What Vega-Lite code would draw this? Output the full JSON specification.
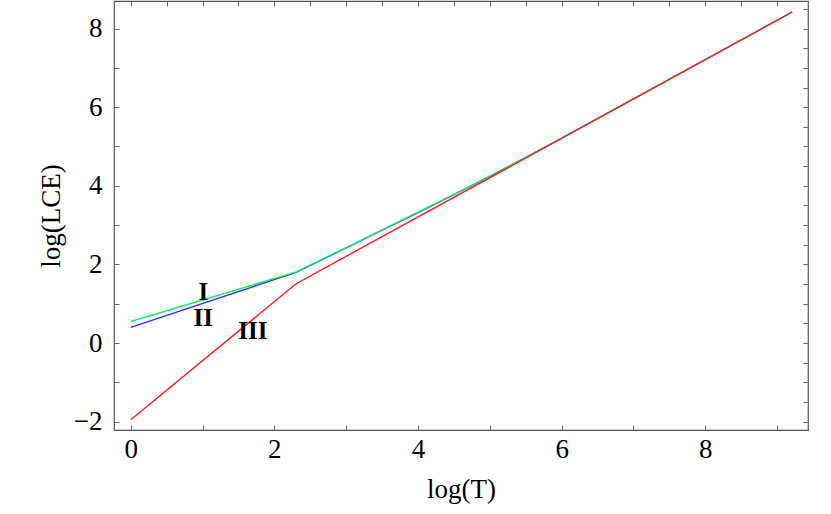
{
  "$schema": "https://vega.github.io/schema/vega-lite/v6.json",
  "width": 694,
  "height": 429,
  "autosize": {"type": "none"},
  "padding": {"left": 114, "top": 1, "right": 23, "bottom": 84},
  "background": "white",
  "config": {
    "view": {"stroke": "#555555", "strokeWidth": 1.2},
    "font": "Liberation Serif",
    "axis": {
      "labelFont": "Liberation Serif",
      "titleFont": "Liberation Serif",
      "labelFontSize": 27,
      "titleFontSize": 27,
      "labelColor": "black",
      "titleColor": "black",
      "titleFontWeight": "normal",
      "domain": false,
      "grid": false,
      "tickColor": "#666666",
      "tickSize": -5,
      "tickWidth": 1
    }
  },
  "datasets": {
    "curves": [
      {"s": "I", "x": 0, "y": 0.55},
      {"s": "I", "x": 2.303, "y": 1.81},
      {"s": "I", "x": 3.0, "y": 2.43},
      {"s": "I", "x": 3.5, "y": 2.88},
      {"s": "I", "x": 4.0, "y": 3.33},
      {"s": "I", "x": 4.5, "y": 3.78},
      {"s": "I", "x": 5.0, "y": 4.245},
      {"s": "I", "x": 5.5, "y": 4.725},
      {"s": "I", "x": 6.0, "y": 5.215},
      {"s": "I", "x": 9.21, "y": 8.42},
      {"s": "II", "x": 0, "y": 0.40},
      {"s": "II", "x": 2.303, "y": 1.80},
      {"s": "II", "x": 3.0, "y": 2.42},
      {"s": "II", "x": 3.5, "y": 2.87},
      {"s": "II", "x": 4.0, "y": 3.32},
      {"s": "II", "x": 4.5, "y": 3.775},
      {"s": "II", "x": 5.0, "y": 4.24},
      {"s": "II", "x": 5.5, "y": 4.722},
      {"s": "II", "x": 6.0, "y": 5.213},
      {"s": "II", "x": 9.21, "y": 8.42},
      {"s": "III", "x": 0, "y": -1.95},
      {"s": "III", "x": 2.303, "y": 1.51},
      {"s": "III", "x": 9.21, "y": 8.42}
    ],
    "labels": [
      {"t": "I", "x": 1.01, "y": 1.3},
      {"t": "II", "x": 1.01, "y": 0.65},
      {"t": "III", "x": 1.70, "y": 0.31}
    ]
  },
  "resolve": {"axis": {"x": "independent", "y": "independent"}},
  "layer": [
    {
      "data": {"name": "curves"},
      "transform": [{"filter": "datum.s == 'II'"}],
      "mark": {"type": "line", "color": "#3a2cff", "strokeWidth": 1.4, "clip": true},
      "encoding": {
        "x": {"field": "x", "type": "quantitative",
              "scale": {"domain": [-0.233, 9.43], "nice": false, "zero": false},
              "axis": {"title": "log(T)", "orient": "bottom", "format": "d",
                       "values": [0,0.5,1,1.5,2,2.5,3,3.5,4,4.5,5,5.5,6,6.5,7,7.5,8,8.5,9],
                       "labelExpr": "datum.value % 2 == 0 ? datum.label : ''",
                       "labelPadding": 11, "titlePadding": 14, "labelFlush": false}},
        "y": {"field": "y", "type": "quantitative",
              "scale": {"domain": [-2.21, 8.70], "nice": false, "zero": false},
              "axis": {"title": "log(LCE)", "orient": "left", "format": "d",
                       "values": [-2,-1.5,-1,-0.5,0,0.5,1,1.5,2,2.5,3,3.5,4,4.5,5,5.5,6,6.5,7,7.5,8,8.5],
                       "labelExpr": "datum.value % 2 == 0 ? datum.label : ''",
                       "labelPadding": 17, "titlePadding": 8, "labelFlush": false}}
      }
    },
    {
      "data": {"name": "curves"},
      "transform": [{"filter": "datum.s == 'I'"}],
      "mark": {"type": "line", "color": "#14ee6a", "strokeWidth": 1.4, "clip": true},
      "encoding": {
        "x": {"field": "x", "type": "quantitative",
              "axis": {"orient": "top", "title": null, "labels": false,
                       "values": [0,0.5,1,1.5,2,2.5,3,3.5,4,4.5,5,5.5,6,6.5,7,7.5,8,8.5,9]}},
        "y": {"field": "y", "type": "quantitative",
              "axis": {"orient": "right", "title": null, "labels": false,
                       "values": [-2,-1.5,-1,-0.5,0,0.5,1,1.5,2,2.5,3,3.5,4,4.5,5,5.5,6,6.5,7,7.5,8,8.5]}}
      }
    },
    {
      "data": {"name": "curves"},
      "transform": [{"filter": "datum.s == 'III'"}],
      "mark": {"type": "line", "color": "#ff1a1a", "strokeWidth": 1.4, "clip": true},
      "encoding": {
        "x": {"field": "x", "type": "quantitative", "axis": null},
        "y": {"field": "y", "type": "quantitative", "axis": null}
      }
    },
    {
      "data": {"name": "labels"},
      "mark": {"type": "text", "font": "Liberation Serif", "fontWeight": "bold", "fontSize": 25, "color": "black", "align": "center", "baseline": "middle"},
      "encoding": {
        "x": {"field": "x", "type": "quantitative", "axis": null},
        "y": {"field": "y", "type": "quantitative", "axis": null},
        "text": {"field": "t"}
      }
    }
  ]
}
